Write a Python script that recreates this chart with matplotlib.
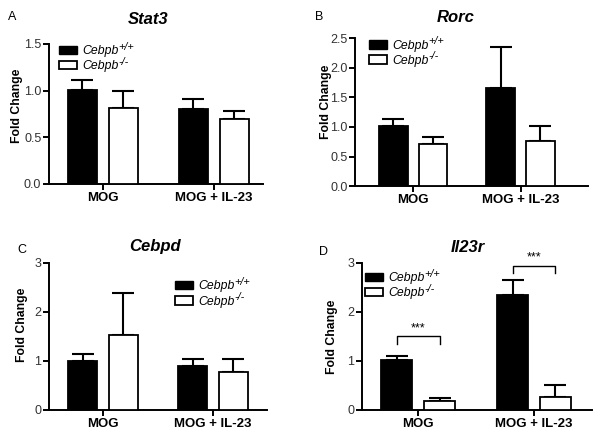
import numpy as np
import matplotlib
matplotlib.use("Agg")
from matplotlib import pyplot as plt
from matplotlib.patches import Patch

plt.rcParams['font.family'] = ['Liberation Sans', 'DejaVu Sans']

groups = ["MOG", "MOG + IL-23"]
genotypes = ["Cebpb", "Cebpb"]
genotype_sup = ["+/+", "-/-"]

# mean fold change and upper error, one value per group
stat3_wt = [1.01, 0.80]
stat3_wt_err = [0.10, 0.11]
stat3_ko = [0.81, 0.70]
stat3_ko_err = [0.19, 0.08]

rorc_wt = [1.01, 1.66]
rorc_wt_err = [0.13, 0.69]
rorc_ko = [0.715, 0.77]
rorc_ko_err = [0.115, 0.25]

cebpd_wt = [1.0, 0.89]
cebpd_wt_err = [0.14, 0.15]
cebpd_ko = [1.52, 0.78]
cebpd_ko_err = [0.87, 0.25]

il23r_wt = [1.02, 2.34]
il23r_wt_err = [0.09, 0.31]
il23r_ko = [0.18, 0.27]
il23r_ko_err = [0.06, 0.24]

W, H = 604.0, 438.0
panels = [
    dict(letter="A", lpos=(8, 17), title="Stat3", tpos=(148, 19),
         wt=stat3_wt, wte=stat3_wt_err, ko=stat3_ko, koe=stat3_ko_err,
         ymax=1.5, yticks=[0.0, 0.5, 1.0, 1.5], fmt="{:.1f}",
         rect=[0.081, 0.580, 0.354, 0.320], xlim=(-0.486, 1.44), leg=(0.047, 0.99),
         ylab=(-0.12, 0.56)),
    dict(letter="B", lpos=(315, 17), title="Rorc", tpos=(456, 18),
         wt=rorc_wt, wte=rorc_wt_err, ko=rorc_ko, koe=rorc_ko_err,
         ymax=2.5, yticks=[0.0, 0.5, 1.0, 1.5, 2.0, 2.5], fmt="{:.1f}",
         rect=[0.588, 0.575, 0.386, 0.338], xlim=(-0.54, 1.63), leg=(0.06, 0.99),
         ylab=(-0.10, 0.57)),
    dict(letter="C", lpos=(17, 250), title="Cebpd", tpos=(155, 247),
         wt=cebpd_wt, wte=cebpd_wt_err, ko=cebpd_ko, koe=cebpd_ko_err,
         ymax=3, yticks=[0, 1, 2, 3], fmt="{:.0f}",
         rect=[0.081, 0.064, 0.361, 0.336], xlim=(-0.49, 1.49), leg=(0.578, 0.88),
         ylab=(-0.096, 0.58)),
    dict(letter="D", lpos=(319, 252), title="Il23r", tpos=(468, 247),
         wt=il23r_wt, wte=il23r_wt_err, ko=il23r_ko, koe=il23r_ko_err,
         ymax=3, yticks=[0, 1, 2, 3], fmt="{:.0f}",
         rect=[0.599, 0.064, 0.381, 0.336], xlim=(-0.487, 1.50), leg=(0.013, 0.935),
         ylab=(-0.104, 0.50)),
]

fig = plt.figure(figsize=(6.04, 4.38), dpi=100)
x = np.arange(len(groups))
w = 0.265
off = 0.185

for p in panels:
    ax = fig.add_axes(p["rect"])
    ax.bar(x - off, p["wt"], w, color="black", edgecolor="black", linewidth=1.3, zorder=3)
    ax.bar(x + off, p["ko"], w, color="white", edgecolor="black", linewidth=1.3, zorder=3)
    ax.errorbar(x - off, p["wt"], yerr=[np.zeros(2), p["wte"]], fmt="none", ecolor="black",
                elinewidth=1.5, capsize=8, capthick=1.5, zorder=2)
    ax.errorbar(x + off, p["ko"], yerr=[np.zeros(2), p["koe"]], fmt="none", ecolor="black",
                elinewidth=1.5, capsize=8, capthick=1.5, zorder=2)
    ax.set_ylim(0, p["ymax"])
    ax.set_xlim(*p["xlim"])
    ax.set_yticks(p["yticks"])
    ax.set_yticklabels([p["fmt"].format(v) for v in p["yticks"]], fontsize=9, color="#333333")
    ax.set_xticks(x)
    ax.set_xticklabels(groups, fontsize=9.5, fontweight="bold")
    for s in ["top", "right"]:
        ax.spines[s].set_visible(False)
    for s in ["left", "bottom"]:
        ax.spines[s].set_linewidth(1.4)
    ax.tick_params(direction="out", width=1.4, length=4, pad=1.5)
    ax.set_ylabel("Fold Change", fontsize=8.8, fontweight="bold")
    ax.yaxis.set_label_coords(*p["ylab"])
    fig.text(p["tpos"][0] / W, 1 - p["tpos"][1] / H, p["title"], fontsize=12, fontweight="bold",
             fontstyle="italic", ha="center", va="center")
    fig.text(p["lpos"][0] / W, 1 - p["lpos"][1] / H, p["letter"], fontsize=9, ha="left", va="center")
    handles = [Patch(facecolor="black", edgecolor="black"),
               Patch(facecolor="white", edgecolor="black", linewidth=1.3)]
    leg = ax.legend(handles, genotypes, loc="upper left", bbox_to_anchor=p["leg"], frameon=False,
                    handlelength=1.5, handleheight=0.7, labelspacing=0.25,
                    handletextpad=0.4, borderaxespad=0, borderpad=0,
                    prop=dict(style="italic", size=8.8))
    # superscripts placed after the legend text, drawn once the legend is laid out
    for t, sup in zip(leg.get_texts(), genotype_sup):
        ax.annotate(sup, xy=(1, 0.62), xycoords=t, xytext=(0, 0), textcoords="offset points",
                    fontsize=7.8, fontstyle="italic", ha="left", va="baseline", zorder=10)
    if p["letter"] == "D":
        for i, (yb, drop) in enumerate([(1.5, 0.15), (2.94, 0.14)]):
            ax.plot([x[i] - off, x[i] - off, x[i] + off, x[i] + off],
                    [yb - drop, yb, yb, yb - drop], color="black", lw=1.0)
            ax.text(x[i], yb + 0.04, "***", ha="center", va="bottom", fontsize=9)

fig.savefig("out.png", dpi=100)
